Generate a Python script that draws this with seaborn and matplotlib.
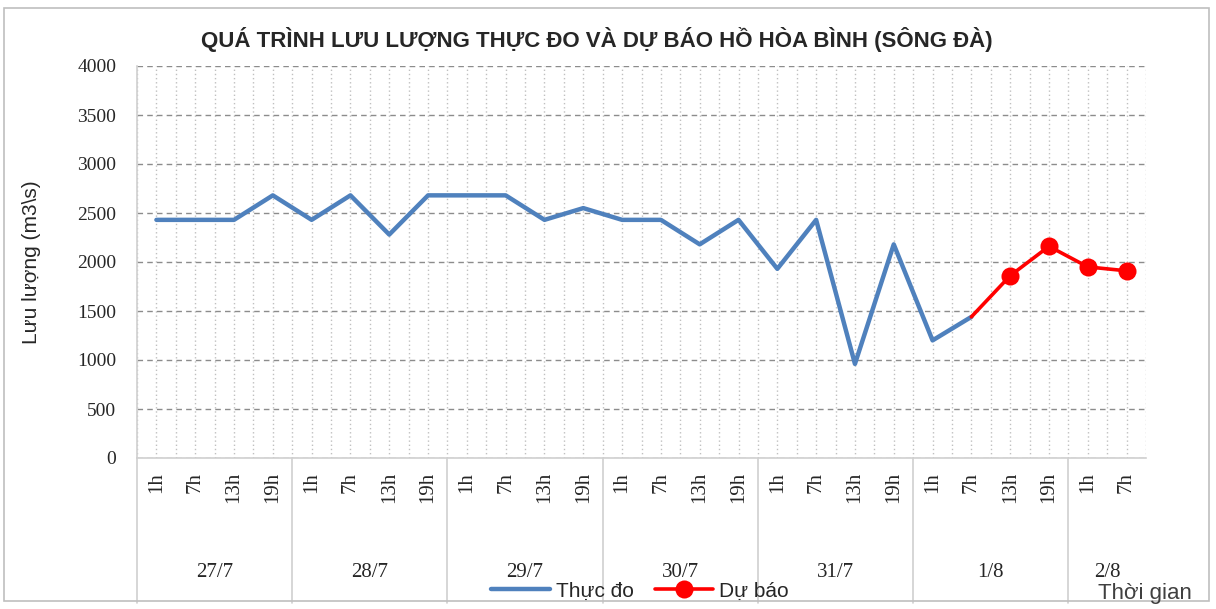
import pandas as pd
import numpy as np
import matplotlib
matplotlib.use("Agg")
import matplotlib.pyplot as plt
import matplotlib.transforms as mtransforms
from matplotlib.patches import Rectangle
import seaborn as sns

# du lieu doc tu hinh
ngay = ["27/7", "28/7", "29/7", "30/7", "31/7", "1/8", "2/8"]
gio_moi_ngay = [4, 4, 4, 4, 4, 4, 2]
gio = ["1h", "7h", "13h", "19h"]
thuc_do = [2430, 2430, 2430, 2680,
           2430, 2680, 2280, 2680,
           2680, 2680, 2430, 2550,
           2430, 2430, 2180, 2430,
           1930, 2430, 960, 2180,
           1200, 1440]
du_bao = [1440, 1860, 2160, 1950, 1910]

nhan_gio = [g for n in gio_moi_ngay for g in gio[:n]]
x_all = np.arange(len(nhan_gio))

df_do = pd.DataFrame({"x": x_all[:len(thuc_do)], "q": thuc_do})
df_bao = pd.DataFrame({"x": x_all[len(thuc_do) - 1:], "q": du_bao})

sns.set_style("white")
sans = "Liberation Sans"
serif = "Liberation Serif"
plt.rcParams["font.family"] = [sans, "DejaVu Sans"]

fig = plt.figure(figsize=(12.16, 6.09), dpi=100)
ax = fig.add_axes([137 / 1216, 1 - 458 / 609, (1146 - 137) / 1216, (458 - 66) / 609])

fig.patches.append(Rectangle((4 / 1216, 8 / 609), 1205 / 1216, 593 / 609,
                             transform=fig.transFigure, fill=False,
                             edgecolor="#bfbfbf", linewidth=1.2))

sns.lineplot(data=df_do, x="x", y="q", ax=ax, color="#4F81BD", linewidth=3.2,
             label="Thực đo")
sns.lineplot(data=df_bao, x="x", y="q", ax=ax, color="#FF0000", linewidth=2.6,
             marker="o", markersize=13, markeredgewidth=0,
             markevery=list(range(1, len(du_bao))), label="Dự báo")

ax.set_xlim(-0.5, len(nhan_gio) - 0.5)
ax.set_ylim(0, 4000)
ax.set_yticks(range(0, 4001, 500))
ax.set_yticklabels([str(v) for v in range(0, 4001, 500)], family=serif, fontsize=14)
ax.set_xticks(x_all)
ax.set_xticklabels(nhan_gio, rotation=90, family=serif, fontsize=15, va="top")
ax.set_xticks(np.arange(-0.5, len(nhan_gio), 1.0), minor=True)
ax.tick_params(axis="both", which="both", length=0)
ax.tick_params(axis="y", pad=15)
ax.tick_params(axis="x", pad=10)

ax.grid(axis="y", which="major", linestyle=(0, (4, 3)), color="#8c8c8c", linewidth=1)
ax.grid(axis="x", which="both", linestyle=(0, (1, 2)), color="#c0c0c0", linewidth=1)
ax.set_axisbelow(True)
for s in ["top", "right"]:
    ax.spines[s].set_visible(False)
for s in ["left", "bottom"]:
    ax.spines[s].set_color("#d0d0d0")
    ax.spines[s].set_linewidth(1.2)

ax.set_xlabel("")
ax.set_ylabel("Lưu lượng (m3\\s)", fontsize=15, labelpad=26)

# nhan ngay va vach ngan
trans = mtransforms.blended_transform_factory(ax.transData, ax.transAxes)
start = 0
for d, n in zip(ngay, gio_moi_ngay):
    ax.text(start + (n - 1) / 2, -0.293, d, transform=trans, ha="center",
            va="center", family=serif, fontsize=15)
    ax.plot([start - 0.5, start - 0.5], [0, -0.37], transform=trans,
            color="#d0d0d0", linewidth=1.2, clip_on=False)
    start += n

ax.set_title("QUÁ TRÌNH LƯU LƯỢNG THỰC ĐO VÀ DỰ BÁO HỒ HÒA BÌNH (SÔNG ĐÀ)",
             fontsize=16, fontweight="bold", pad=14, x=0.456)

ax.legend(loc="center", bbox_to_anchor=(640 / 1216, 1 - 591 / 609),
          bbox_transform=fig.transFigure, ncol=2, frameon=False,
          fontsize=15, handlelength=2.8, columnspacing=1.0, handletextpad=0.3)
fig.text(1145 / 1216, 1 - 594 / 609, "Thời gian", ha="center", va="center",
         fontsize=16, color="#404040")

fig.savefig("out.png", dpi=100)
